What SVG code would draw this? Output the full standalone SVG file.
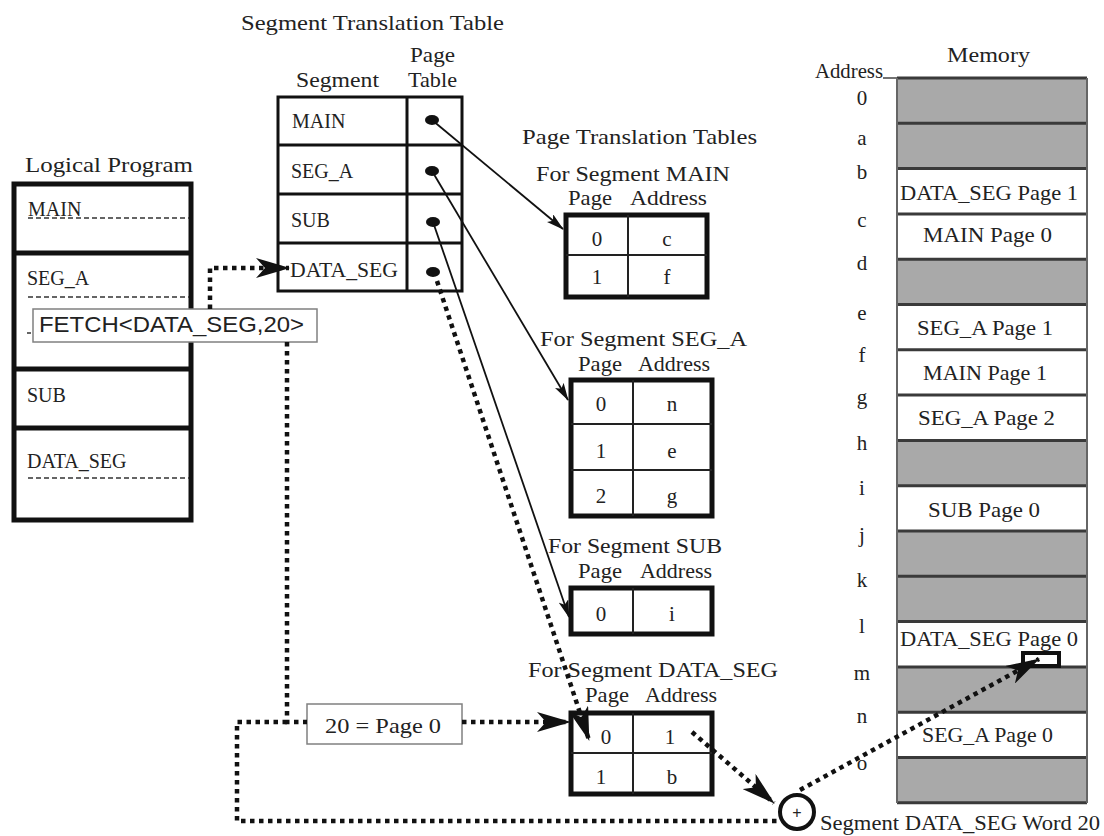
<svg xmlns="http://www.w3.org/2000/svg" width="1104" height="836" viewBox="0 0 1104 836">
<style>
.t{font-family:"Liberation Serif","Times New Roman",serif;fill:#222}
.h{font-size:22px}
.p{font-size:21px}
.s{font-size:20px}
.c{font-size:21px;text-anchor:middle}
.a{font-size:21px;text-anchor:middle}
.sans{font-family:"Liberation Sans",Arial,sans-serif;fill:#222;font-size:22px}
.dot{fill:none;stroke:#111;stroke-width:4.5;stroke-dasharray:4.5 4.5}
.sol{fill:none;stroke:#111;stroke-width:1.8}
.tk{fill:#fff;stroke:#111;stroke-width:5}
.ln{stroke:#222;stroke-width:2}
.dash{stroke:#333;stroke-width:1.5;stroke-dasharray:5 3}
.gr{fill:#a9a9a9}
.wh{fill:#fff}
.sep{stroke:#3a3a3a;stroke-width:3}
.lbl{fill:#fff;stroke:#808080;stroke-width:1.5}
</style>
<defs>
<marker id="big" markerUnits="userSpaceOnUse" markerWidth="34" markerHeight="20" viewBox="0 0 34 20" refX="33" refY="10" orient="auto">
<path d="M0,0 L34,10 L0,20 L9,10 z" fill="#111"/>
</marker>
<marker id="sm" markerUnits="userSpaceOnUse" markerWidth="18" markerHeight="10" viewBox="0 0 18 10" refX="17" refY="5" orient="auto">
<path d="M0,0 L18,5 L0,10 L4,5 z" fill="#111"/>
</marker>
</defs>
<rect width="1104" height="836" fill="#fff"/>

<text class="t h" x="241" y="30" textLength="263" lengthAdjust="spacingAndGlyphs">Segment Translation Table</text>

<g id="logical-program">
<text class="t h" x="25" y="172" textLength="168" lengthAdjust="spacingAndGlyphs">Logical Program</text>
<rect x="14" y="184" width="177" height="336" fill="#fff" stroke="#111" stroke-width="5"/>
<line x1="14" y1="253" x2="191" y2="253" stroke="#111" stroke-width="5"/>
<line x1="14" y1="369" x2="191" y2="369" stroke="#111" stroke-width="5"/>
<line x1="14" y1="428" x2="191" y2="428" stroke="#111" stroke-width="5"/>
<line class="dash" x1="28" y1="218" x2="189" y2="218"/>
<line class="dash" x1="28" y1="297" x2="189" y2="297"/>
<line class="dash" x1="28" y1="478" x2="189" y2="478"/>
<line x1="27" y1="333" x2="31" y2="333" stroke="#333" stroke-width="1.5"/>
<text class="t s" x="28" y="216">MAIN</text>
<text class="t s" x="27" y="285">SEG_A</text>
<text class="t s" x="27" y="402">SUB</text>
<text class="t s" x="27" y="468">DATA_SEG</text>
</g>

<g id="fetch">
<rect class="lbl" x="33" y="309" width="284" height="33"/>
<text class="sans" x="39" y="332" textLength="265" lengthAdjust="spacingAndGlyphs">FETCH&lt;DATA_SEG,20&gt;</text>
</g>

<g id="segment-table">
<text class="t h" x="296" y="87" textLength="83" lengthAdjust="spacingAndGlyphs">Segment</text>
<text class="t h" x="410" y="62" textLength="45" lengthAdjust="spacingAndGlyphs">Page</text>
<text class="t h" x="408" y="87" textLength="49" lengthAdjust="spacingAndGlyphs">Table</text>
<rect x="278" y="97" width="184" height="194" fill="#fff" stroke="#111" stroke-width="3"/>
<line x1="407" y1="97" x2="407" y2="291" stroke="#111" stroke-width="3"/>
<line x1="278" y1="145" x2="462" y2="145" stroke="#111" stroke-width="3"/>
<line x1="278" y1="194" x2="462" y2="194" stroke="#111" stroke-width="3"/>
<line x1="278" y1="243" x2="462" y2="243" stroke="#111" stroke-width="3"/>
<text class="t s" x="292" y="128">MAIN</text>
<text class="t s" x="291" y="178">SEG_A</text>
<text class="t s" x="291" y="227">SUB</text>
<text class="t s" x="290" y="277" textLength="108" lengthAdjust="spacingAndGlyphs">DATA_SEG</text>
<ellipse cx="432" cy="120" rx="7" ry="5" fill="#111"/>
<ellipse cx="432" cy="171" rx="7" ry="5" fill="#111"/>
<ellipse cx="433" cy="222" rx="7" ry="5" fill="#111"/>
<ellipse cx="433" cy="272" rx="7" ry="5" fill="#111"/>
</g>

<text class="t h" x="522" y="144" textLength="235" lengthAdjust="spacingAndGlyphs">Page Translation Tables</text>

<g id="pt-main">
<text class="t h" x="536" y="181" textLength="194" lengthAdjust="spacingAndGlyphs">For Segment MAIN</text>
<text class="t p" x="568" y="205" textLength="44" lengthAdjust="spacingAndGlyphs">Page</text>
<text class="t p" x="630" y="205" textLength="77" lengthAdjust="spacingAndGlyphs">Address</text>
<rect class="tk" x="566" y="215" width="141" height="82"/>
<line class="ln" x1="628" y1="215" x2="628" y2="297"/>
<line class="ln" x1="566" y1="255" x2="707" y2="255"/>
<text class="t c" x="597" y="246">0</text>
<text class="t c" x="667" y="246">c</text>
<text class="t c" x="597" y="284">1</text>
<text class="t c" x="667" y="284">f</text>
</g>

<g id="pt-sega">
<text class="t h" x="540" y="346" textLength="207" lengthAdjust="spacingAndGlyphs">For Segment SEG_A</text>
<text class="t p" x="578" y="371" textLength="44" lengthAdjust="spacingAndGlyphs">Page</text>
<text class="t p" x="638" y="371" textLength="72" lengthAdjust="spacingAndGlyphs">Address</text>
<rect class="tk" x="571" y="380" width="141" height="136"/>
<line class="ln" x1="633" y1="380" x2="633" y2="516"/>
<line class="ln" x1="571" y1="424" x2="712" y2="424"/>
<line class="ln" x1="571" y1="470" x2="712" y2="470"/>
<text class="t c" x="601" y="411">0</text>
<text class="t c" x="672" y="411">n</text>
<text class="t c" x="601" y="458">1</text>
<text class="t c" x="672" y="458">e</text>
<text class="t c" x="601" y="503">2</text>
<text class="t c" x="672" y="503">g</text>
</g>

<g id="pt-sub">
<text class="t h" x="548" y="553" textLength="174" lengthAdjust="spacingAndGlyphs">For Segment SUB</text>
<text class="t p" x="578" y="578" textLength="44" lengthAdjust="spacingAndGlyphs">Page</text>
<text class="t p" x="640" y="578" textLength="72" lengthAdjust="spacingAndGlyphs">Address</text>
<rect class="tk" x="571" y="588" width="141" height="46"/>
<line class="ln" x1="633" y1="588" x2="633" y2="634"/>
<text class="t c" x="601" y="621">0</text>
<text class="t c" x="672" y="621">i</text>
</g>

<g id="pt-dataseg">
<text class="t h" x="528" y="677" textLength="250" lengthAdjust="spacingAndGlyphs">For Segment DATA_SEG</text>
<text class="t p" x="585" y="702" textLength="44" lengthAdjust="spacingAndGlyphs">Page</text>
<text class="t p" x="645" y="702" textLength="72" lengthAdjust="spacingAndGlyphs">Address</text>
<rect class="tk" x="571" y="713" width="141" height="81"/>
<line class="ln" x1="633" y1="713" x2="633" y2="794"/>
<line class="ln" x1="571" y1="753" x2="712" y2="753"/>
<text class="t c" x="606" y="744">0</text>
<text class="t c" x="670" y="744">1</text>
<text class="t c" x="601" y="784">1</text>
<text class="t c" x="672" y="784">b</text>
</g>

<g id="page-box">
<rect class="lbl" x="307" y="704" width="155" height="40"/>
<text class="t h" x="325" y="733" textLength="116" lengthAdjust="spacingAndGlyphs">20 = Page 0</text>
</g>

<g id="memory">
<text class="t h" x="947" y="62" textLength="83" lengthAdjust="spacingAndGlyphs">Memory</text>
<text class="t" x="815" y="78" font-size="21" textLength="68" lengthAdjust="spacingAndGlyphs">Address</text>
<line x1="883" y1="78" x2="897" y2="78" stroke="#444" stroke-width="1.5"/>
<rect class="gr" x="897" y="78" width="190" height="45.3"/>
<rect class="gr" x="897" y="123.3" width="190" height="45.3"/>
<rect class="wh" x="897" y="168.6" width="190" height="45.3"/>
<rect class="wh" x="897" y="213.9" width="190" height="45.3"/>
<rect class="gr" x="897" y="259.2" width="190" height="45.3"/>
<rect class="wh" x="897" y="304.5" width="190" height="45.3"/>
<rect class="wh" x="897" y="349.8" width="190" height="45.3"/>
<rect class="wh" x="897" y="395.1" width="190" height="45.3"/>
<rect class="gr" x="897" y="440.4" width="190" height="45.3"/>
<rect class="wh" x="897" y="485.7" width="190" height="45.3"/>
<rect class="gr" x="897" y="531" width="190" height="45.3"/>
<rect class="gr" x="897" y="576.3" width="190" height="45.3"/>
<rect class="wh" x="897" y="621.6" width="190" height="45.3"/>
<rect class="gr" x="897" y="666.9" width="190" height="45.3"/>
<rect class="wh" x="897" y="712.2" width="190" height="45.3"/>
<rect class="gr" x="897" y="757.5" width="190" height="45.3"/>
<g class="sep">
<line x1="897" y1="78" x2="1087" y2="78"/>
<line x1="897" y1="123.3" x2="1087" y2="123.3"/>
<line x1="897" y1="168.6" x2="1087" y2="168.6"/>
<line x1="897" y1="213.9" x2="1087" y2="213.9"/>
<line x1="897" y1="259.2" x2="1087" y2="259.2"/>
<line x1="897" y1="304.5" x2="1087" y2="304.5"/>
<line x1="897" y1="349.8" x2="1087" y2="349.8"/>
<line x1="897" y1="395.1" x2="1087" y2="395.1"/>
<line x1="897" y1="440.4" x2="1087" y2="440.4"/>
<line x1="897" y1="485.7" x2="1087" y2="485.7"/>
<line x1="897" y1="531" x2="1087" y2="531"/>
<line x1="897" y1="576.3" x2="1087" y2="576.3"/>
<line x1="897" y1="621.6" x2="1087" y2="621.6"/>
<line x1="897" y1="666.9" x2="1087" y2="666.9"/>
<line x1="897" y1="712.2" x2="1087" y2="712.2"/>
<line x1="897" y1="757.5" x2="1087" y2="757.5"/>
<line x1="897" y1="802.8" x2="1087" y2="802.8"/>
</g>
<line x1="897" y1="78" x2="897" y2="803" stroke="#666" stroke-width="2"/>
<line x1="1087" y1="78" x2="1087" y2="803" stroke="#666" stroke-width="2"/>
<text class="t h" x="900" y="200" textLength="178" lengthAdjust="spacingAndGlyphs">DATA_SEG Page 1</text>
<text class="t h" x="923" y="242" textLength="129" lengthAdjust="spacingAndGlyphs">MAIN Page 0</text>
<text class="t h" x="917" y="335" textLength="136" lengthAdjust="spacingAndGlyphs">SEG_A Page 1</text>
<text class="t h" x="923" y="380" textLength="124" lengthAdjust="spacingAndGlyphs">MAIN Page 1</text>
<text class="t h" x="918" y="425" textLength="137" lengthAdjust="spacingAndGlyphs">SEG_A Page 2</text>
<text class="t h" x="928" y="517" textLength="112" lengthAdjust="spacingAndGlyphs">SUB Page 0</text>
<text class="t h" x="900" y="646" textLength="178" lengthAdjust="spacingAndGlyphs">DATA_SEG Page 0</text>
<text class="t h" x="922" y="742" textLength="131" lengthAdjust="spacingAndGlyphs">SEG_A Page 0</text>
<rect x="1023" y="653" width="36" height="13" fill="#fff" stroke="#111" stroke-width="4"/>
<text class="t a" x="862" y="105">0</text>
<text class="t a" x="862" y="145">a</text>
<text class="t a" x="862" y="179">b</text>
<text class="t a" x="862" y="227">c</text>
<text class="t a" x="862" y="270">d</text>
<text class="t a" x="862" y="320">e</text>
<text class="t a" x="862" y="362">f</text>
<text class="t a" x="862" y="404">g</text>
<text class="t a" x="862" y="450">h</text>
<text class="t a" x="862" y="495">i</text>
<text class="t a" x="862" y="542">j</text>
<text class="t a" x="862" y="587">k</text>
<text class="t a" x="862" y="633">l</text>
<text class="t a" x="862" y="680">m</text>
<text class="t a" x="862" y="723">n</text>
<text class="t a" x="862" y="770">o</text>
</g>

<g id="connectors">
<path class="sol" d="M432,120 L563,229" marker-end="url(#sm)"/>
<path class="sol" d="M432,171 L568,400" marker-end="url(#sm)"/>
<path class="sol" d="M433,222 L569,617" marker-end="url(#sm)"/>
<path class="dot" d="M210,309 V268 H289" marker-end="url(#big)"/>
<path class="dot" d="M287,342 V722 H307"/>
<path class="dot" d="M287,722 H237 V821 H779"/>
<path class="dot" d="M462,722 H570" marker-end="url(#big)"/>
<path class="dot" d="M437,281 L589,740" marker-end="url(#big)"/>
<path class="dot" d="M692,732 L774,803" marker-end="url(#big)"/>
<path class="dot" d="M800,790 L1039,659" marker-end="url(#big)"/>
</g>

<g id="adder">
<circle cx="797" cy="812" r="17" fill="#fff" stroke="#111" stroke-width="4"/>
<text x="797" y="818" font-family="Liberation Sans, Arial, sans-serif" font-size="16" text-anchor="middle" fill="#222">+</text>
</g>

<text class="t" x="820" y="830" font-size="21" textLength="280" lengthAdjust="spacingAndGlyphs">Segment DATA_SEG Word 20</text>
</svg>
